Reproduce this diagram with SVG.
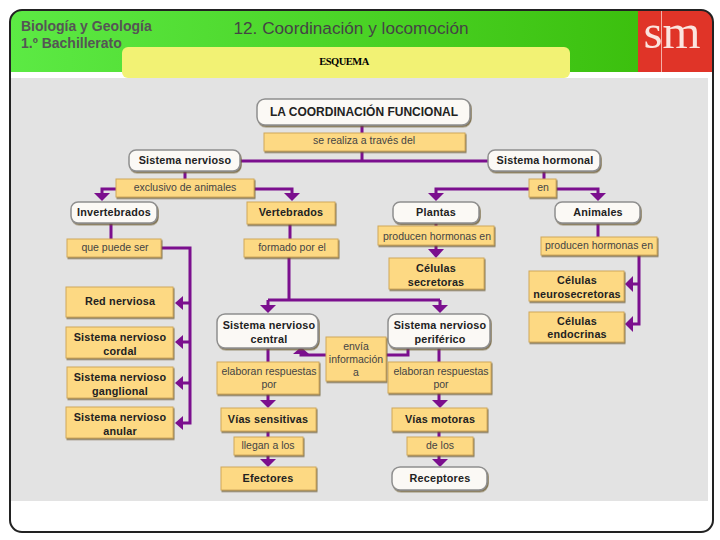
<svg xmlns="http://www.w3.org/2000/svg" width="720" height="540" viewBox="0 0 720 540">
<style>
text{font-family:"Liberation Sans",Arial,sans-serif;text-anchor:middle;fill:#222}
.y{fill:#fdd983;stroke:#d0a85a;stroke-width:1;filter:url(#s)}
.w{fill:#fbf9f5;stroke:#8f8f8f;stroke-width:1.5;filter:url(#s)}
.b{font-size:10.8px;font-weight:bold;letter-spacing:.2px}
.n{font-size:10.5px;fill:#444}
.c path.l{fill:none;stroke:#7b0f8e;stroke-width:3}
.c polygon{fill:#7b0f8e}
.h{font-size:14px;fill:#555;font-weight:bold;text-anchor:start}
</style>
<defs>
<linearGradient id="g" x1="0" x2="1" y1="0" y2="0"><stop offset="0" stop-color="#5cea44"/><stop offset="1" stop-color="#3cc00e"/></linearGradient>
<filter id="s" x="-10%" y="-20%" width="125%" height="150%"><feDropShadow dx="1" dy="1.5" stdDeviation=".6" flood-color="#6b5a30" flood-opacity=".8"/></filter>
<clipPath id="f"><rect x="10" y="10" width="703" height="522" rx="12"/></clipPath>
</defs>
<rect width="720" height="540" fill="#fff"/>
<g id="frame">
<g clip-path="url(#f)">
<rect x="10" y="10" width="628" height="62" fill="url(#g)"/>
<rect x="638" y="10" width="75" height="62" fill="#e03428"/>
<rect x="661" y="10" width="1" height="62" fill="#f4b0a8"/>
<rect x="11" y="78" width="697" height="423" fill="#e3e3e3"/>
</g>
<rect x="10" y="10" width="703" height="522" rx="12" fill="none" stroke="#222" stroke-width="2"/>
<text x="672" y="48" style="font-family:'Liberation Serif',serif;font-size:49px;fill:#fbe4df" textLength="57" lengthAdjust="spacingAndGlyphs">sm</text>
<text class="h" x="21" y="31">Biología y Geología</text>
<text class="h" x="21" y="48">1.º Bachillerato</text>
<text x="351" y="34" style="font-size:17.2px;fill:#444">12. Coordinación y locomoción</text>
<rect x="122" y="47" width="448" height="31" rx="6" fill="#f2f274"/>
<text x="344" y="65" style="font-family:'Liberation Serif',serif;font-size:10.5px;font-weight:bold;letter-spacing:-.5px;fill:#000">ESQUEMA</text>
</g>
<g class="c" id="connectors">
<path class="l" d="M362 125V161M240 161H488"/>
<path class="l" d="M185 171V179M116 189H102V194M254 189H292V194"/>
<polygon points="94,193 110,193 102,201"/><polygon points="284,193 300,193 292,201"/>
<path class="l" d="M111 223V239M290 224V239M161 248H190V423H180M190 303H180M190 342H180M190 383H180"/>
<polygon points="175,303 183,296 183,310"/><polygon points="175,342 183,335 183,349"/><polygon points="175,383 183,376 183,390"/><polygon points="175,423 183,416 183,430"/>
<path class="l" d="M289 257V300M268 300H440M268 300V306M440 300V306"/>
<polygon points="260,305 276,305 268,313"/><polygon points="432,305 448,305 440,313"/>
<path class="l" d="M544 171V179M529 189H436V194M556 189H598V194"/>
<polygon points="428,193 444,193 436,201"/><polygon points="590,193 606,193 598,201"/>
<path class="l" d="M436 223V226M436 245V250M598 223V237M639 255V324H630M639 284H630"/>
<polygon points="428,249 444,249 436,258"/>
<polygon points="625,284 633,276 633,292"/><polygon points="625,324 633,316 633,332"/>
<path class="l" d="M268 348V362M268 394V402M268 431V437M268 455V460"/>
<polygon points="260,400 276,400 268,408"/><polygon points="260,459 276,459 268,467"/>
<path class="l" d="M439 348V362M439 393V402M439 431V437M439 455V460"/>
<polygon points="432,400 448,400 440,408"/><polygon points="432,459 448,459 440,467"/>
<path class="l" d="M386 355H408V348M326 355H301V352"/>
<polygon points="293,354 309,354 301,347"/>
</g>
<g id="n1"><rect class="w" x="257" y="99" width="213" height="26" rx="8"/><text x="364" y="116" style="font-size:12px;font-weight:bold">LA COORDINACIÓN FUNCIONAL</text></g>
<g id="n2"><rect class="y" x="264" y="133" width="201" height="18"/><text class="n" x="364" y="144">se realiza a través del</text></g>
<g id="n3"><rect class="w" x="129" y="150" width="111" height="21" rx="7"/><text class="b" x="185" y="164">Sistema nervioso</text></g>
<g id="n4"><rect class="w" x="488" y="150" width="112" height="21" rx="7"/><text class="b" x="545" y="164">Sistema hormonal</text></g>
<g id="n5"><rect class="y" x="116" y="179" width="138" height="18"/><text class="n" x="185" y="191">exclusivo de animales</text></g>
<g id="n6"><rect class="y" x="529" y="179" width="27" height="18"/><text class="n" x="543" y="191">en</text></g>
<g id="n7"><rect class="w" x="71" y="202" width="86" height="21" rx="7"/><text class="b" x="114" y="216">Invertebrados</text></g>
<g id="n8"><rect class="y" x="247" y="202" width="88" height="22"/><text class="b" x="291" y="216">Vertebrados</text></g>
<g id="n9"><rect class="w" x="393" y="202" width="86" height="21" rx="7"/><text class="b" x="436" y="216">Plantas</text></g>
<g id="n10"><rect class="w" x="555" y="202" width="85" height="21" rx="7"/><text class="b" x="598" y="216">Animales</text></g>
<g id="n11"><rect class="y" x="67" y="239" width="94" height="18"/><text class="n" x="115" y="251">que puede ser</text></g>
<g id="n12"><rect class="y" x="244" y="239" width="94" height="18"/><text class="n" x="292" y="251">formado por el</text></g>
<g id="n13"><rect class="y" x="378" y="226" width="116" height="19"/><text class="n" x="437" y="240">producen hormonas en</text></g>
<g id="n14"><rect class="y" x="541" y="237" width="116" height="18"/><text class="n" x="599" y="249">producen hormonas en</text></g>
<g id="n15"><rect class="y" x="389" y="258" width="95" height="31"/><text class="b" x="436" y="272">Células</text><text class="b" x="436" y="286">secretoras</text></g>
<g id="n16"><rect class="y" x="529" y="271" width="95" height="30"/><text class="b" x="577" y="284">Células</text><text class="b" x="577" y="298">neurosecretoras</text></g>
<g id="n17"><rect class="y" x="529" y="312" width="95" height="30"/><text class="b" x="577" y="325">Células</text><text class="b" x="577" y="338">endocrinas</text></g>
<g id="n18"><rect class="y" x="66" y="287" width="107" height="30"/><text class="b" x="120" y="305">Red nerviosa</text></g>
<g id="n19"><rect class="y" x="66" y="327" width="107" height="31"/><text class="b" x="120" y="341">Sistema nervioso</text><text class="b" x="120" y="355">cordal</text></g>
<g id="n20"><rect class="y" x="67" y="367" width="106" height="31"/><text class="b" x="120" y="381">Sistema nervioso</text><text class="b" x="120" y="395">ganglional</text></g>
<g id="n21"><rect class="y" x="66" y="407" width="107" height="31"/><text class="b" x="120" y="421">Sistema nervioso</text><text class="b" x="120" y="435">anular</text></g>
<g id="n22"><rect class="w" x="217" y="314" width="101" height="34" rx="8"/><text class="b" x="269" y="329">Sistema nervioso</text><text class="b" x="269" y="343">central</text></g>
<g id="n23"><rect class="w" x="388" y="314" width="102" height="34" rx="8"/><text class="b" x="440" y="329">Sistema nervioso</text><text class="b" x="440" y="343">periférico</text></g>
<g id="n24"><rect class="y" x="326" y="337" width="60" height="44"/><text class="n" x="356" y="350">envía</text><text class="n" x="356" y="363">información</text><text class="n" x="356" y="376">a</text></g>
<g id="n25"><rect class="y" x="217" y="362" width="102" height="32"/><text class="n" x="269" y="375">elaboran respuestas</text><text class="n" x="269" y="388">por</text></g>
<g id="n26"><rect class="y" x="388" y="362" width="103" height="31"/><text class="n" x="441" y="375">elaboran respuestas</text><text class="n" x="441" y="388">por</text></g>
<g id="n27"><rect class="y" x="221" y="408" width="95" height="23"/><text class="b" x="268" y="423">Vías sensitivas</text></g>
<g id="n28"><rect class="y" x="392" y="408" width="95" height="23"/><text class="b" x="440" y="423">Vías motoras</text></g>
<g id="n29"><rect class="y" x="234" y="437" width="69" height="18"/><text class="n" x="268" y="449">llegan a los</text></g>
<g id="n30"><rect class="y" x="407" y="437" width="66" height="18"/><text class="n" x="440" y="449">de los</text></g>
<g id="n31"><rect class="y" x="221" y="467" width="95" height="23"/><text class="b" x="268" y="482">Efectores</text></g>
<g id="n32"><rect class="w" x="392" y="467" width="95" height="23" rx="8"/><text class="b" x="440" y="482">Receptores</text></g>
</svg>
